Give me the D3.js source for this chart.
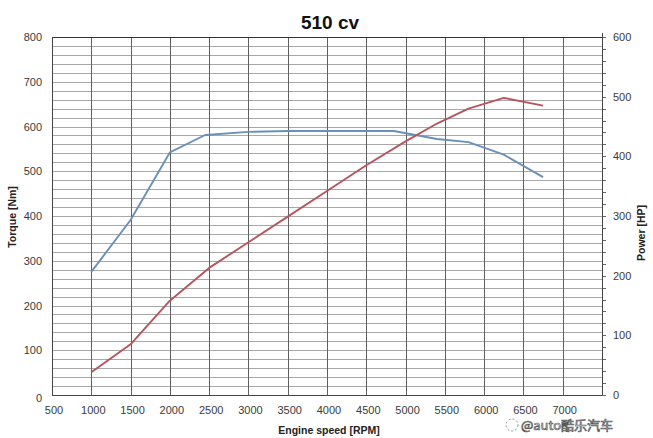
<!DOCTYPE html>
<html>
<head>
<meta charset="utf-8">
<script src="https://cdn.jsdelivr.net/npm/d3@7"></script>
<style>
  html, body { margin: 0; padding: 0; background: #fff; }
  svg { display: block; }
</style>
</head>
<body>
<svg id="chart" width="653" height="438"></svg>
<script>
// ---- data ----
const rpmTicks = [500, 1000, 1500, 2000, 2500, 3000, 3500, 4000, 4500, 5000, 5500, 6000, 6500, 7000];
const torqueTicks = [0, 100, 200, 300, 400, 500, 600, 700, 800];
const powerTicks = [0, 100, 200, 300, 400, 500, 600];

const torqueRpm = [1000, 1500, 2000, 2450, 3000, 3500, 4000, 4500, 4850, 5400, 5800, 6250, 6750];
const torqueNm  = [275, 391, 542, 581, 588, 590, 590, 590, 590, 572, 565, 537, 487];

const powerRpm = [1000, 1500, 2000, 2500, 3000, 3500, 4000, 4500, 5000, 5400, 5800, 6250, 6750];
const powerHp  = [38, 85, 158, 213, 256, 299, 342, 385, 425, 455, 480, 498, 485];

const title = "510 cv";
const xTitle = "Engine speed [RPM]";
const yLeftTitle = "Torque [Nm]";
const yRightTitle = "Power [HP]";
const watermark = "@auto酷乐汽车";

// ---- layout ----
const svg = d3.select("#chart");
const L = 52, R = 602, T = 37, B = 395;
const x = d3.scaleLinear().domain([500, 7500]).range([L, R]);
const yL = d3.scaleLinear().domain([0, 800]).range([B, T]);
const yR = d3.scaleLinear().domain([0, 600]).range([B, T]);
const font = "'Liberation Sans', Arial, sans-serif";

// horizontal grid (every 20 Nm)
svg.append("g").selectAll("line")
  .data(d3.range(20, 800, 20))
  .join("line")
  .attr("x1", L).attr("x2", R)
  .attr("y1", d => Math.round(yL(d)) + 0.5).attr("y2", d => Math.round(yL(d)) + 0.5)
  .attr("stroke", "#a8a8a8").attr("stroke-width", 1);

// vertical grid
svg.append("g").selectAll("line")
  .data(d3.range(1000, 7500, 500))
  .join("line")
  .attr("x1", d => Math.round(x(d)) + 0.5).attr("x2", d => Math.round(x(d)) + 0.5)
  .attr("y1", T).attr("y2", B)
  .attr("stroke", "#606060").attr("stroke-width", 1);

// right minor ticks
svg.append("g").selectAll("line")
  .data(d3.range(0, 601, 20))
  .join("line")
  .attr("x1", R).attr("x2", R + 4)
  .attr("y1", d => Math.round(yR(d)) + 0.5).attr("y2", d => Math.round(yR(d)) + 0.5)
  .attr("stroke", "#666").attr("stroke-width", 1);

// frame lines
svg.append("line").attr("x1", L).attr("x2", R).attr("y1", T + 0.5).attr("y2", T + 0.5).attr("stroke", "#333");
svg.append("line").attr("x1", L).attr("x2", R).attr("y1", B + 0.5).attr("y2", B + 0.5).attr("stroke", "#444");
svg.append("line").attr("x1", L + 0.5).attr("x2", L + 0.5).attr("y1", T).attr("y2", B).attr("stroke", "#444");
svg.append("line").attr("x1", R + 0.5).attr("x2", R + 0.5).attr("y1", T - 4).attr("y2", B).attr("stroke", "#444");

// lines
const torqueData = torqueRpm.map((r, i) => [r, torqueNm[i]]);
const powerData = powerRpm.map((r, i) => [r, powerHp[i]]);

svg.append("path")
  .datum(torqueData)
  .attr("fill", "none").attr("stroke", "#6b90b8").attr("stroke-width", 1.9)
  .attr("stroke-linejoin", "round")
  .attr("d", d3.line().x(d => x(d[0])).y(d => yL(d[1])));

svg.append("path")
  .datum(powerData)
  .attr("fill", "none").attr("stroke", "#b9545e").attr("stroke-width", 1.9)
  .attr("stroke-linejoin", "round")
  .attr("d", d3.line().x(d => x(d[0])).y(d => yR(d[1])));

// axis labels
svg.append("g").selectAll("text")
  .data(torqueTicks).join("text")
  .attr("x", 42).attr("y", d => yL(d) + 4 + (d === 0 ? 3 : 0))
  .attr("text-anchor", "end")
  .attr("font-family", font).attr("font-size", 11).attr("fill", "#3a3a3a")
  .text(d => d);

svg.append("g").selectAll("text")
  .data(powerTicks).join("text")
  .attr("x", 613).attr("y", d => yR(d) + 4)
  .attr("text-anchor", "start")
  .attr("font-family", font).attr("font-size", 11).attr("fill", "#3a3a3a")
  .text(d => d);

svg.append("g").selectAll("text")
  .data(rpmTicks).join("text")
  .attr("x", d => x(d) + 2).attr("y", 414)
  .attr("text-anchor", "middle")
  .attr("font-family", font).attr("font-size", 11).attr("fill", "#3a3a3a")
  .text(d => d);

// titles
svg.append("text").attr("x", 330).attr("y", 29)
  .attr("text-anchor", "middle").attr("font-family", font)
  .attr("font-weight", "bold").attr("font-size", 19).attr("fill", "#111")
  .text(title);

svg.append("text").attr("x", 329).attr("y", 434)
  .attr("text-anchor", "middle").attr("font-family", font)
  .attr("font-weight", "bold").attr("font-size", 10.5).attr("fill", "#222")
  .text(xTitle);

svg.append("text")
  .attr("transform", "translate(16,217) rotate(-90)")
  .attr("text-anchor", "middle").attr("font-family", font)
  .attr("font-weight", "bold").attr("font-size", 10.5).attr("fill", "#222")
  .text(yLeftTitle);

svg.append("text")
  .attr("transform", "translate(645,233) rotate(-90)")
  .attr("text-anchor", "middle").attr("font-family", font)
  .attr("font-weight", "bold").attr("font-size", 10.5).attr("fill", "#222")
  .text(yRightTitle);

// watermark (placed just below the tick labels)
const wm = svg.append("g");
wm.append("circle").attr("cx", 512).attr("cy", 425).attr("r", 6)
  .attr("fill", "white").attr("stroke", "#777").attr("stroke-width", 0.8).attr("stroke-dasharray", "2,2");
wm.append("text").attr("x", 521).attr("y", 430)
  .attr("font-family", "'Noto Sans CJK SC', sans-serif").attr("font-size", 13)
  .attr("fill", "white").attr("stroke", "#555").attr("stroke-width", 0.7)
  .text(watermark);
</script>
</body>
</html>
